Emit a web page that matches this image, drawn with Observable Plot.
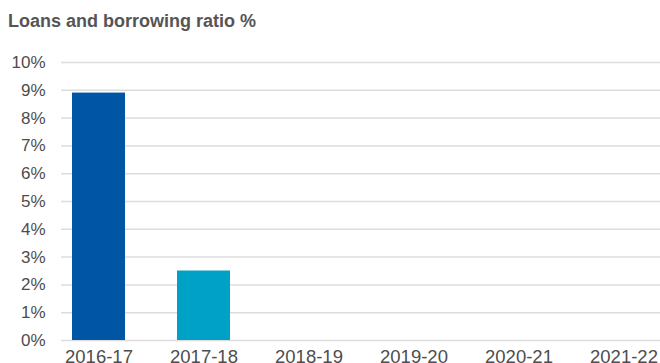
<!DOCTYPE html>
<html>
<head>
<meta charset="utf-8">
<script src="https://cdn.jsdelivr.net/npm/d3@7"></script>
<script src="https://cdn.jsdelivr.net/npm/@observablehq/plot@0.6"></script>
<style>
  html, body { margin: 0; padding: 0; background: #fff; }
  #wrap { width: 660px; height: 363px; overflow: hidden; position: relative; }
  #title { position: absolute; left: 8px; top: 11px; font-family: "Liberation Sans", Arial, sans-serif; font-weight: bold; font-size: 18px; color: #555555; white-space: nowrap; }
  #chart { position: absolute; left: 0; top: 40px; }
</style>
</head>
<body>
<div id="wrap">
  <div id="title">Loans and borrowing ratio %</div>
  <div id="chart"></div>
</div>
<script>
const years = ["2016-17", "2017-18", "2018-19", "2019-20", "2020-21", "2021-22"];
const ratios = [8.9, 2.5, null, null, null, null];
const barColors = ["#0055a4", "#00a1c6", "#0055a4", "#0055a4", "#0055a4", "#0055a4"];
const yTicks = [0, 1, 2, 3, 4, 5, 6, 7, 8, 9, 10];

const data = years.map((y, i) => ({year: y, value: ratios[i], color: barColors[i]})).filter(d => d.value != null);

const chart = Plot.plot({
  width: 660,
  height: 323,
  marginTop: 22,
  marginBottom: 23,
  marginLeft: 61,
  marginRight: 0,
  style: { fontFamily: "'Liberation Sans', Arial, sans-serif", color: "#4d4d4d", background: "#fff", overflow: "visible" },
  x: { type: "band", domain: years, range: [45.75, 675.75], paddingInner: 0.5, paddingOuter: 0.25 },
  y: { domain: [0, 10] },
  marks: [
    Plot.ruleY(yTicks, { stroke: "#dcdcdc", strokeWidth: 1.5 }),
    Plot.barY(data, { x: "year", y: "value", fill: d => d.color }),
    Plot.axisY(yTicks, { tickSize: 0, tickPadding: 16, tickFormat: d => d + "%", fontSize: 17, label: null, fill: "#4d4d4d" }),
    Plot.axisX(years, { tickSize: 0, tickPadding: 9, fontSize: 18.5, label: null, fill: "#4d4d4d" })
  ]
});
document.getElementById("chart").appendChild(chart);
</script>
</body>
</html>
